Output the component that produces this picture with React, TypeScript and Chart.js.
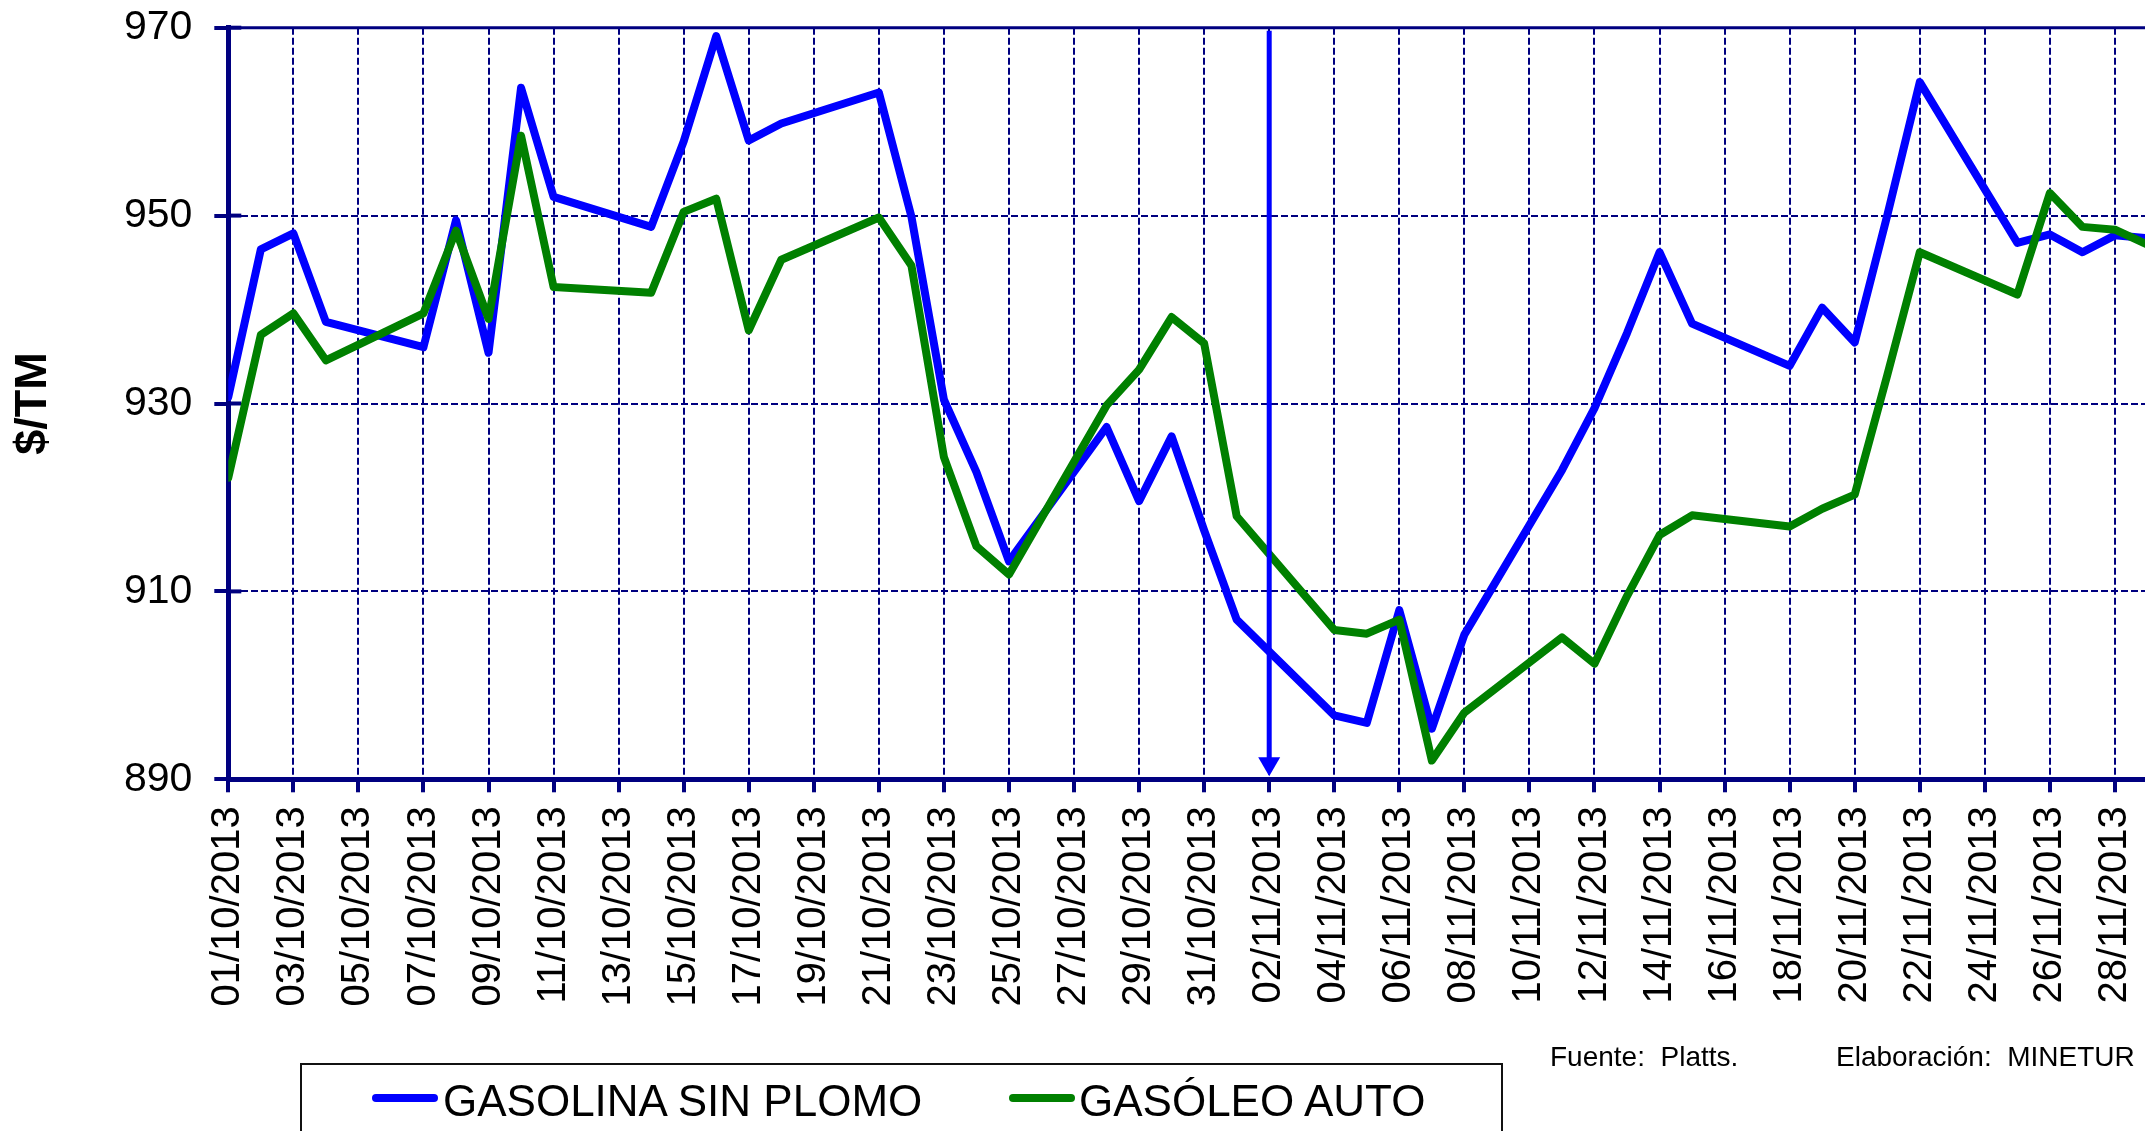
import React, { useEffect, useRef } from "react";
import { Chart, registerables } from "chart.js";

Chart.register(...registerables);

const DAY_LABELS = [
  "01/10/2013", "02/10/2013", "03/10/2013", "04/10/2013", "05/10/2013", "06/10/2013", "07/10/2013",
  "08/10/2013", "09/10/2013", "10/10/2013", "11/10/2013", "12/10/2013", "13/10/2013", "14/10/2013",
  "15/10/2013", "16/10/2013", "17/10/2013", "18/10/2013", "19/10/2013", "20/10/2013", "21/10/2013",
  "22/10/2013", "23/10/2013", "24/10/2013", "25/10/2013", "26/10/2013", "27/10/2013", "28/10/2013",
  "29/10/2013", "30/10/2013", "31/10/2013", "01/11/2013", "02/11/2013", "03/11/2013", "04/11/2013",
  "05/11/2013", "06/11/2013", "07/11/2013", "08/11/2013", "09/11/2013", "10/11/2013", "11/11/2013",
  "12/11/2013", "13/11/2013", "14/11/2013", "15/11/2013", "16/11/2013", "17/11/2013", "18/11/2013",
  "19/11/2013", "20/11/2013", "21/11/2013", "22/11/2013", "23/11/2013", "24/11/2013", "25/11/2013",
  "26/11/2013", "27/11/2013", "28/11/2013", "29/11/2013", "30/11/2013",
];

// null = weekend (no quotation)
const GASOLINA_SIN_PLOMO: (number | null)[] = [
  930.7, 946.4, 948.1, 938.7, null, null, 936.0,
  949.5, 935.4, 963.6, 952.0, null, null, 948.8,
  957.9, 969.1, 958.0, 959.8, null, null, 963.1,
  949.9, 930.4, 922.7, 913.2, null, null, 927.5,
  919.6, 926.5, 916.5, 907.0, null, null, 896.8,
  896.0, 908.0, 895.4, 905.4, null, null, 922.9,
  929.5, 937.5, 946.1, 938.5, null, null, 934.0,
  940.2, 936.5, 950.0, 964.2, null, null, 947.1,
  948.0, 946.1, 947.9, 947.6, null,
];

const GASOLEO_AUTO: (number | null)[] = [
  922.1, 937.3, 939.6, 934.6, null, null, 939.6,
  948.4, 939.0, 958.5, 942.4, null, null, 941.8,
  950.4, 951.8, 937.8, 945.3, null, null, 949.8,
  944.7, 924.3, 914.8, 911.8, null, null, 929.8,
  933.6, 939.2, 936.4, 918.0, null, null, 905.9,
  905.5, 907.0, 892.0, 897.1, null, null, 905.1,
  902.3, 909.5, 916.0, 918.1, null, null, 916.9,
  918.8, 920.3, 933.0, 946.1, null, null, 941.6,
  952.4, 948.8, 948.5, 946.9, null,
];

const SERIES_NAMES = ["GASOLINA SIN PLOMO", "GASÓLEO AUTO"];
const Y_MIN = 890;
const Y_MAX = 970;
const Y_STEP = 20;
const ARROW_DAY = 32; // 02/11/2013 marker

const NAVY = "#000080";
const BLUE = "#0000FF";
const GREEN = "#008000";
const FONT = "'Liberation Sans', Arial, Helvetica, sans-serif";

const decorations = {
  id: "decorations",
  beforeDatasetsDraw(chart: any) {
    const { ctx, chartArea, scales } = chart;
    ctx.save();
    ctx.strokeStyle = NAVY;
    ctx.lineWidth = 3;
    ctx.setLineDash([]);
    ctx.beginPath();
    ctx.moveTo(chartArea.left, chartArea.top);
    ctx.lineTo(chartArea.right, chartArea.top);
    ctx.stroke();
    ctx.lineWidth = 4;
    scales.y.ticks.forEach((t: any) => {
      const y = scales.y.getPixelForValue(t.value);
      ctx.beginPath();
      ctx.moveTo(chartArea.left, y);
      ctx.lineTo(chartArea.left + 13, y);
      ctx.stroke();
    });
    ctx.restore();
  },
  afterDatasetsDraw(chart: any) {
    const { ctx, chartArea, scales } = chart;
    const x = scales.x.getPixelForValue(ARROW_DAY);
    const top = chartArea.top + 3;
    const tip = chartArea.bottom - 3;
    const headH = 19;
    const headW = 11;
    ctx.save();
    ctx.strokeStyle = BLUE;
    ctx.fillStyle = BLUE;
    ctx.lineWidth = 5;
    ctx.beginPath();
    ctx.moveTo(x, top);
    ctx.lineTo(x, tip - headH + 2);
    ctx.stroke();
    ctx.beginPath();
    ctx.moveTo(x, tip);
    ctx.lineTo(x - headW, tip - headH);
    ctx.lineTo(x + headW, tip - headH);
    ctx.closePath();
    ctx.fill();
    ctx.restore();
  },
};

export default function App() {
  const canvasRef = useRef<HTMLCanvasElement | null>(null);

  useEffect(() => {
    const canvas = canvasRef.current;
    if (!canvas) return;
    const chart = new Chart(canvas, {
      type: "line",
      data: {
        datasets: [
          {
            label: SERIES_NAMES[0],
            data: GASOLINA_SIN_PLOMO.map((y, x) => ({ x, y })) as any,
            borderColor: BLUE,
            backgroundColor: BLUE,
            borderWidth: 8,
            pointRadius: 0,
            spanGaps: true,
            tension: 0,
            borderJoinStyle: "round",
            borderCapStyle: "round",
            order: 1,
          },
          {
            label: SERIES_NAMES[1],
            data: GASOLEO_AUTO.map((y, x) => ({ x, y })) as any,
            borderColor: GREEN,
            backgroundColor: GREEN,
            borderWidth: 8,
            pointRadius: 0,
            spanGaps: true,
            tension: 0,
            borderJoinStyle: "round",
            borderCapStyle: "round",
            order: 0,
          },
        ],
      },
      options: {
        responsive: false,
        animation: false,
        events: [],
        layout: { padding: { left: 0, top: 27.7, right: 40, bottom: 0 } },
        plugins: { legend: { display: false }, tooltip: { enabled: false } },
        scales: {
          x: {
            type: "linear",
            min: 0,
            max: DAY_LABELS.length - 1,
            afterFit: (s: any) => {
              s.height = 351.7;
              s.paddingLeft = 0;
              s.paddingRight = 0;
            },
            ticks: {
              stepSize: 2,
              autoSkip: false,
              minRotation: 90,
              maxRotation: 90,
              padding: 14,
              color: "#000",
              font: { family: FONT, size: 40 },
              callback: (v: any) => DAY_LABELS[v] ?? "",
            },
            grid: { color: NAVY, lineWidth: 2, tickLength: 13, tickWidth: 4, tickColor: NAVY },
            border: { display: true, color: NAVY, width: 5, dash: [7, 3] },
          },
          y: {
            type: "linear",
            min: Y_MIN,
            max: Y_MAX,
            afterFit: (s: any) => {
              s.width = 228.3;
              s.paddingTop = 0;
              s.paddingBottom = 0;
            },
            ticks: {
              stepSize: Y_STEP,
              padding: 22,
              color: "#000",
              font: { family: FONT, size: 41 },
            },
            grid: { color: NAVY, lineWidth: 2, tickLength: 14, tickWidth: 4, tickColor: NAVY },
            border: { display: true, color: NAVY, width: 5, dash: [7, 3] },
            title: {
              display: true,
              text: "$/TM",
              color: "#000",
              font: { family: FONT, size: 45, weight: "bold" },
              padding: { top: 7, bottom: 0 },
            },
          },
        },
      } as any,
      plugins: [decorations],
    });
    return () => chart.destroy();
  }, []);

  const legendText: React.CSSProperties = {
    position: "absolute",
    top: 1079,
    fontFamily: FONT,
    fontSize: 44,
    lineHeight: "44px",
    color: "#000",
    whiteSpace: "nowrap",
  };
  const footText: React.CSSProperties = {
    position: "absolute",
    top: 1043,
    fontFamily: FONT,
    fontSize: 28,
    lineHeight: "28px",
    color: "#000",
    whiteSpace: "nowrap",
  };

  return (
    <div
      style={{
        position: "fixed",
        left: 0,
        top: 0,
        width: 2145,
        height: 1131,
        overflow: "hidden",
        background: "#fff",
      }}
    >
      <canvas
        ref={canvasRef}
        width={2220}
        height={1131}
        style={{ position: "absolute", left: 0, top: 0, width: 2220, height: 1131 }}
      />
      <div
        style={{
          position: "absolute",
          left: 300,
          top: 1063,
          width: 1203,
          height: 120,
          border: "2px solid #111",
          boxSizing: "border-box",
        }}
      />
      <div style={{ position: "absolute", left: 372, top: 1094, width: 66, height: 8, borderRadius: 4, background: BLUE }} />
      <div style={{ ...legendText, left: 443 }}>{SERIES_NAMES[0]}</div>
      <div style={{ position: "absolute", left: 1009, top: 1094, width: 66, height: 8, borderRadius: 4, background: GREEN }} />
      <div style={{ ...legendText, left: 1079 }}>{SERIES_NAMES[1]}</div>
      <div style={{ ...footText, left: 1550 }}>Fuente:&nbsp; Platts.</div>
      <div style={{ ...footText, left: 1836 }}>Elaboración:&nbsp; MINETUR</div>
    </div>
  );
}
